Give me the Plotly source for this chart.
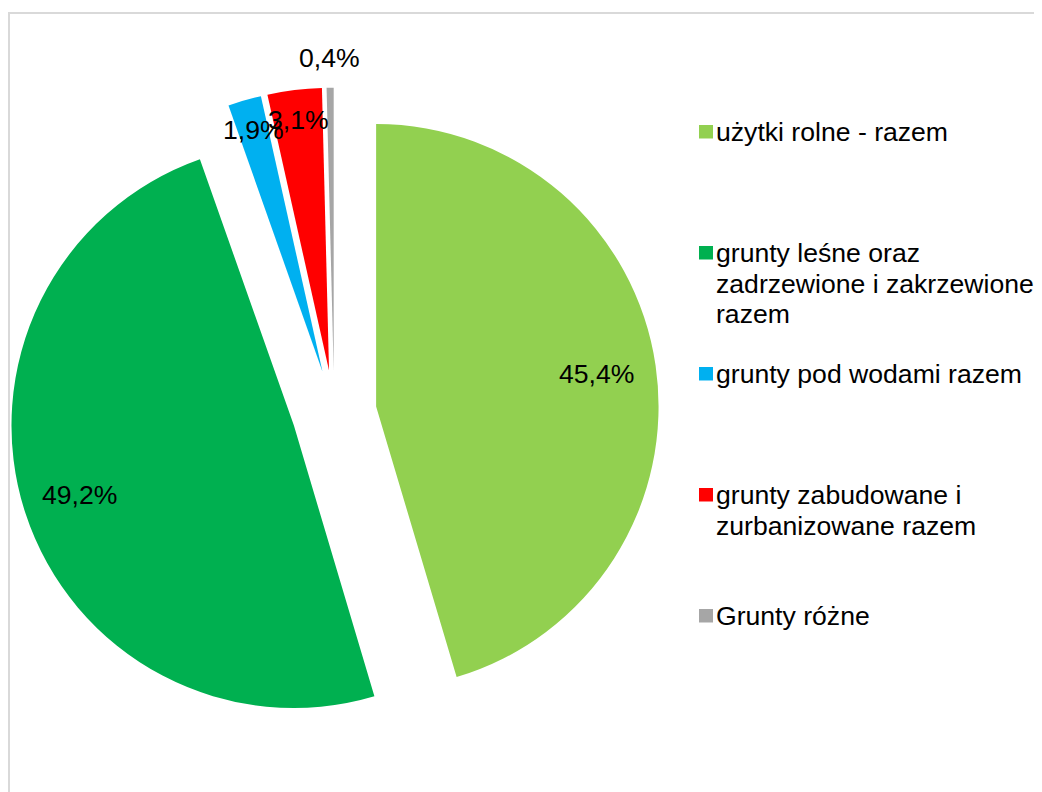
import math
import textwrap
import plotly.graph_objects as go

# ---- data ----
categories = [
    "użytki rolne - razem",
    "grunty leśne oraz zadrzewione i zakrzewione razem",
    "grunty pod wodami razem",
    "grunty zabudowane i zurbanizowane razem",
    "Grunty różne",
]
shares = [45.4, 49.2, 1.9, 3.1, 0.4]
share_labels = ["45,4%", "49,2%", "1,9%", "3,1%", "0,4%"]
colors = ["#92D050", "#00B050", "#00B0F0", "#FF0000", "#A6A6A6"]

# ---- layout constants ----
W, H = 1042, 792
OFF = 8  # page body margin: page px -> figure px
FONT = "Liberation Sans, Arial, sans-serif"
FS = 26.6
PULL = 0.15
dom_px_x = (9.4 - OFF, 659.0 - OFF)
dom_px_y = (87.7 - OFF, 737.3 - OFF)  # from top
label_rad = [0.79, 0.80, 0.89, 0.895, 1.104]  # label distance along bisector (fraction of r)


def fx(p):
    return p / W


def fy(p):
    return 1 - p / H


dom_x = [fx(dom_px_x[0]), fx(dom_px_x[1])]
dom_y = [fy(dom_px_y[1]), fy(dom_px_y[0])]

fig = go.Figure()
fig.add_trace(go.Pie(
    labels=categories,
    values=shares,
    sort=False,
    direction="clockwise",
    rotation=0,
    pull=PULL,
    marker=dict(colors=colors, line=dict(width=0)),
    textinfo="none",
    hoverinfo="label+percent",
    showlegend=False,
    domain=dict(x=dom_x, y=dom_y),
))

# geometry as plotly computes it
cx = (dom_px_x[0] + dom_px_x[1]) / 2
cy = (dom_px_y[0] + dom_px_y[1]) / 2
r = min(dom_px_x[1] - dom_px_x[0], dom_px_y[1] - dom_px_y[0]) / (2 + 2 * PULL)

total = sum(shares)
annotations = []
cum = 0.0
for v, txt, k in zip(shares, share_labels, label_rad):
    mid = (cum + v / 2) / total * 2 * math.pi
    cum += v
    ux, uy = math.sin(mid), -math.cos(mid)
    px = cx + (PULL + k) * r * ux
    py = cy + (PULL + k) * r * uy
    annotations.append(dict(
        x=fx(px), y=fy(py), xref="paper", yref="paper",
        text=txt, showarrow=False, xanchor="center", yanchor="middle",
        font=dict(family=FONT, size=FS, color="#000000"),
    ))

# manual legend
shapes = []
leg_x_sq0, leg_x_sq1 = 699 - OFF, 713 - OFF
leg_text_x = 714 - OFF
leg_y0, leg_step, line_step = 132 - OFF, 121, 30.5
for i, (name, col) in enumerate(zip(categories, colors)):
    yc = leg_y0 + i * leg_step
    shapes.append(dict(
        type="rect", xref="paper", yref="paper",
        x0=fx(leg_x_sq0), x1=fx(leg_x_sq1),
        y0=fy(yc + 6.5), y1=fy(yc - 7),
        fillcolor=col, line=dict(width=0),
    ))
    for j, line in enumerate(textwrap.wrap(name, width=25)):
        annotations.append(dict(
            x=fx(leg_text_x), y=fy(yc + j * line_step),
            xref="paper", yref="paper",
            text=line, showarrow=False, xanchor="left", yanchor="middle",
            font=dict(family=FONT, size=FS, color="#000000"),
        ))

# chart-area border
shapes.append(dict(
    type="rect", xref="paper", yref="paper",
    x0=fx(9 - OFF), x1=1.05, y0=-0.05, y1=fy(13 - OFF),
    line=dict(color="#D9D9D9", width=2), fillcolor="rgba(0,0,0,0)",
))

fig.update_layout(
    width=W, height=H,
    margin=dict(l=0, r=0, t=0, b=0),
    paper_bgcolor="white",
    plot_bgcolor="white",
    annotations=annotations,
    shapes=shapes,
    showlegend=False,
)

fig.write_html("out.html")
